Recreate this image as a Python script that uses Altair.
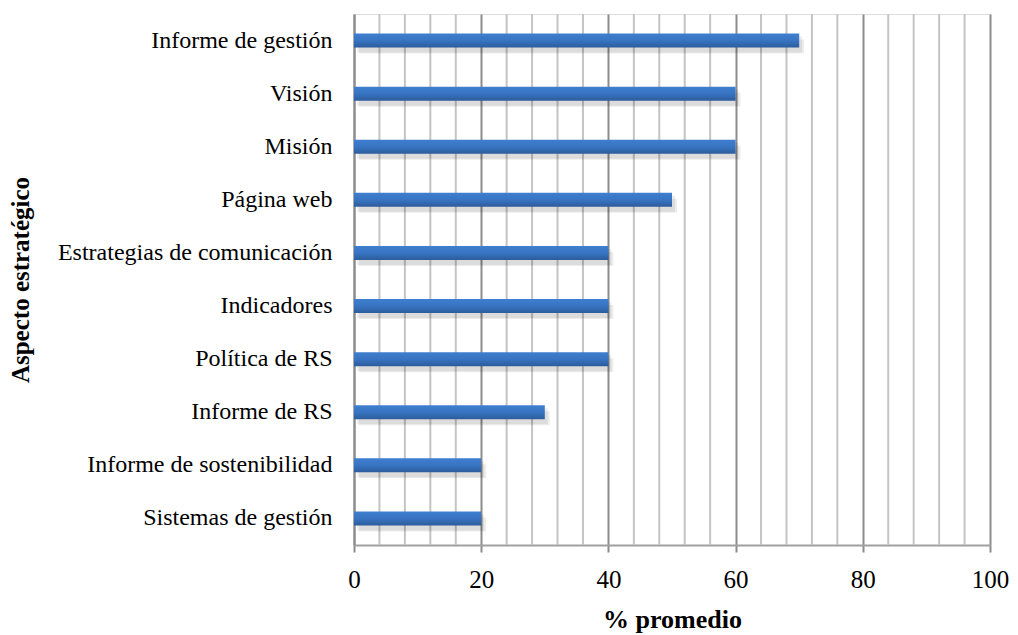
import altair as alt
import pandas as pd

categories = ["Informe de gestión", "Visión", "Misión", "Página web",
              "Estrategias de comunicación", "Indicadores", "Política de RS",
              "Informe de RS", "Informe de sostenibilidad", "Sistemas de gestión"]
values = [70, 60, 60, 50, 40, 40, 40, 30, 20, 20]
major_ticks = [0, 20, 40, 60, 80, 100]
minor_ticks = [v for v in range(0, 101, 4) if v % 20 != 0]

df = pd.DataFrame({"cat": categories, "val": values})
minor_df = pd.DataFrame({"v": minor_ticks})

SERIF = "Liberation Serif"
xscale = alt.Scale(domain=[0, 100], nice=False, zero=True)
yenc = alt.Y("cat:N", sort=categories, scale=alt.Scale(paddingInner=0.74, paddingOuter=0.37),
             axis=alt.Axis(title="Aspecto estratégico", titleFont=SERIF,
                           titleFontSize=25, titleFontWeight="bold", titleColor="#000",
                           titleX=-321,
                           labelFont=SERIF, labelFontSize=24, labelLimit=0,
                           labelColor="#000", labelPadding=22, ticks=False,
                           domain=True, domainColor="#8c8c8c", domainWidth=2, grid=False))

grid = alt.Chart(minor_df).mark_rule(color="#c4c4c4", strokeWidth=2).encode(
    x=alt.X("v:Q", scale=xscale), y=alt.value(0), y2=alt.value(531))

base = alt.Chart(df)

shadow1 = base.mark_bar(color="#000", opacity=0.07, size=16, yOffset=4, xOffset=3).encode(
    x=alt.X("val:Q", scale=xscale), y=yenc)
shadow2 = base.mark_bar(color="#000", opacity=0.07, size=14, yOffset=6, xOffset=5).encode(
    x=alt.X("val:Q", scale=xscale), y=yenc)

bars = base.mark_bar(
    size=14,
    color=alt.Gradient(gradient="linear", x1=0, y1=0, x2=0, y2=1,
                       stops=[alt.GradientStop(offset=0, color="#3f7fcf"),
                              alt.GradientStop(offset=0.5, color="#3874c2"),
                              alt.GradientStop(offset=1, color="#2c5c9c")])
).encode(
    x=alt.X("val:Q", scale=xscale,
            axis=alt.Axis(values=major_ticks, title="% promedio",
                          titleFont=SERIF, titleFontSize=26,
                          titleFontWeight="bold", titleColor="#000", titlePadding=14,
                          labelFont=SERIF, labelFontSize=25, labelFlush=False,
                          labelColor="#000", labelPadding=15,
                          tickColor="#8c8c8c", tickSize=7, tickWidth=2,
                          domainColor="#a0a0a0", domainWidth=2,
                          grid=True, gridColor="#8c8c8c", gridWidth=2)),
    y=yenc,
)

chart = alt.layer(grid, shadow1, shadow2, bars).properties(
    width=636, height=531,
    autosize=alt.AutoSizeParams(type="none"),
    padding={"left": 346, "top": 6, "right": 20, "bottom": 88},
).configure_view(stroke=None).configure(background="white")

chart.save("out.html", embed_options={"renderer": "svg", "actions": False})
